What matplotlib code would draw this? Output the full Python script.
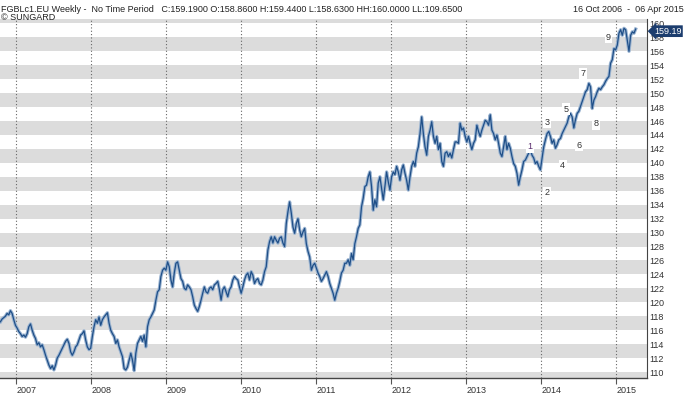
import matplotlib
matplotlib.use("Agg")
import matplotlib.pyplot as plt
import pandas as pd

# Euro-Bund futures, weekly closes
closes_2006_2008 = [
    117.2, 117.6, 117.8, 118.0, 118.4, 118.2, 118.8, 118.4, 117.5, 116.7,
    116.3, 115.8, 115.5, 115.1, 115.3, 115.0, 115.5, 116.5, 116.9, 116.0,
    115.3, 114.8, 113.9, 114.2, 113.6, 113.9, 113.2, 112.4, 111.7, 111.0,
    110.5, 110.9, 110.3, 111.0, 112.0, 112.4, 112.9, 113.4, 113.9, 114.4,
    114.7, 114.1, 112.9, 112.4, 112.9, 113.6, 113.9, 114.6, 115.3, 115.5,
    115.9, 114.6, 113.6, 113.2, 113.4, 115.1, 116.5, 117.5, 117.0, 117.9,
    116.7, 117.5, 117.9, 118.2, 118.5, 117.0, 116.0, 115.5, 115.1, 114.1,
    114.6, 113.6, 112.9, 112.2, 110.5, 110.3, 110.7, 111.7, 112.7, 111.7,
    110.2, 112.7, 114.1, 114.6, 115.1, 114.4, 115.3, 113.6, 116.5, 117.5,
]
closes_2008_2010 = [
    117.9, 118.4, 118.9, 120.3, 121.5, 121.8, 123.7, 124.6, 124.9, 124.6,
    125.8, 125.1, 123.2, 122.2, 124.2, 125.6, 125.8, 124.6, 123.4, 123.0,
    122.0, 121.8, 122.5, 122.2, 121.8, 120.8, 119.6, 119.1, 118.7, 119.4,
    120.3, 121.3, 122.2, 121.5, 121.3, 122.0, 122.2, 121.8, 122.5, 122.7,
    123.0, 121.8, 120.3, 121.8, 122.2, 121.5, 120.8, 121.8, 122.2, 123.2,
    123.7, 123.4, 123.2, 122.2, 121.3, 122.2, 123.2, 123.9, 124.2, 123.2,
    124.4, 123.9, 122.7, 123.2, 123.4, 122.7, 122.5, 123.2, 124.4, 125.1,
    127.5, 128.7, 129.4, 128.5, 129.4, 128.9, 128.5, 129.2, 129.4, 128.5,
    128.0, 131.3, 133.0, 134.4, 132.8, 130.8, 129.9, 131.3, 132.0, 130.4,
]
closes_2010_2013 = [
    129.4, 130.1, 130.6, 128.4, 127.3, 126.5, 124.6, 125.3, 125.6, 124.9,
    124.2, 123.7, 123.0, 123.4, 123.9, 124.4, 123.7, 122.7, 122.0, 121.3,
    120.3, 121.3, 122.0, 123.0, 124.2, 124.6, 125.6, 125.6, 126.1, 125.3,
    127.0, 126.1, 128.4, 129.4, 130.6, 131.1, 133.7, 134.9, 136.6, 136.8,
    138.0, 138.7, 136.6, 133.2, 134.7, 133.7, 137.1, 138.0, 136.3, 134.7,
    136.6, 138.7, 137.3, 136.1, 138.0, 138.7, 138.3, 139.5, 138.7, 137.5,
    139.0, 139.7, 138.5, 137.5, 136.1, 138.0, 139.5, 140.2, 139.5, 141.4,
    142.3, 144.2, 146.6, 144.2, 142.3, 141.1, 143.8, 144.7, 145.9, 143.8,
    142.8, 143.8, 141.9, 142.8,
]
closes_2013_2015 = [
    140.2, 139.5, 141.4, 141.6, 140.9, 141.4, 140.7, 141.9, 143.0, 143.0,
    142.8, 145.7, 144.7, 145.0, 143.8, 143.0, 143.8, 142.8, 141.9, 142.8,
    143.3, 145.4, 144.5, 143.8, 144.7, 145.4, 146.1, 145.9, 145.4, 146.9,
    144.7, 144.2, 143.3, 144.0, 142.8, 141.4, 140.9, 142.3, 143.8, 141.9,
    142.8, 142.1, 140.9, 139.9, 139.5, 138.5, 136.8, 138.0, 139.0, 140.2,
    140.4, 140.9, 141.4, 141.9, 141.1, 140.7, 139.9, 140.2, 139.5, 139.0,
    140.7, 142.3, 143.3, 144.2, 144.5, 143.8, 142.8, 143.3, 142.1, 142.6,
    143.3, 143.5, 144.2, 144.7, 145.2, 145.7, 146.6, 147.1,
    146.6, 145.0, 146.2, 147.1, 147.4, 148.1, 148.8, 149.5, 150.2, 150.5,
    151.4, 150.9, 147.8, 149.0, 149.5, 150.2, 150.7, 150.5, 150.9, 151.2,
    151.7, 152.1, 152.4, 154.3, 154.8, 156.4, 156.2, 156.9, 158.6, 159.1,
    158.3, 159.3, 159.1, 157.6, 156.0, 158.3, 158.8, 158.6, 159.2,
]
closes = closes_2006_2008 + closes_2008_2010 + closes_2010_2013 + closes_2013_2015
last_price = 159.19

# wave count labels (label, date, price)
wave_labels = ["1", "2", "3", "4", "5", "6", "7", "8", "9"]
wave_dates = ["2013-11-08", "2014-01-30", "2014-01-30", "2014-04-16", "2014-04-30",
              "2014-07-05", "2014-07-22", "2014-09-24", "2014-11-25"]
wave_prices = [142.3, 135.7, 145.8, 139.6, 147.7, 142.5, 152.8, 145.6, 158.0]

years = list(range(2007, 2016))
price_ticks = list(range(110, 161, 2))

dates = pd.date_range("2006-10-16", "2015-04-06", periods=len(closes))

fig = plt.figure(figsize=(6.89, 3.94), dpi=100)
ax = fig.add_axes([0.0, 0.0406, 0.939, 0.9114])
font = "Liberation Sans"

# alternating grey bands
for lo in range(108, 162, 4):
    ax.axhspan(lo, lo + 2, color="#dcdcdc", lw=0, zorder=0)

for y in years:
    ax.axvline(pd.Timestamp(f"{y}-01-01"), color="#666666", lw=0.8,
               ls=(0, (1, 2)), zorder=1)

ax.plot(dates, closes, color="#9ab3d0", lw=2.4, zorder=2)
ax.plot(dates, closes, color="#1f4f88", lw=0.9, zorder=3)

for lab, d, p in zip(wave_labels, wave_dates, wave_prices):
    ax.text(pd.Timestamp(d), p, lab, fontsize=6.5, family=font,
            color="#5a2d6e" if lab == "1" else "#333333", ha="center", va="center",
            bbox=dict(boxstyle="square,pad=0.15", fc="white", ec="none"), zorder=4)

ax.set_xlim(pd.Timestamp("2006-10-14"), pd.Timestamp("2015-05-31"))
ax.set_ylim(109.14, 160.65)

ax.set_xticks([pd.Timestamp(f"{y}-01-01") for y in years])
ax.set_xticklabels([str(y) for y in years], family=font, fontsize=6.5, color="#333333")
for t in ax.get_xticklabels():
    t.set_horizontalalignment("left")
ax.tick_params(axis="x", length=4, width=0.8, color="#555555", pad=2)

ax.yaxis.tick_right()
ax.set_yticks(price_ticks)
ax.set_yticklabels([str(v) for v in price_ticks], family=font, fontsize=6.5, color="#333333")
ax.tick_params(axis="y", length=0, pad=2)

for s in ["top", "left"]:
    ax.spines[s].set_visible(False)
ax.spines["bottom"].set_color("#444444")
ax.spines["right"].set_color("#444444")
ax.spines["bottom"].set_linewidth(1.0)
ax.spines["right"].set_linewidth(0.8)

# last price marker, sits over the 158/160 labels like in the original
ax.annotate(f"{last_price:.2f}", xy=(1.0, last_price), xycoords=("axes fraction", "data"),
            xytext=(5, -1.5), textcoords="offset points", ha="left", va="center",
            color="white", fontsize=6.5, family=font, annotation_clip=False,
            bbox=dict(boxstyle="larrow,pad=0.15", fc="#1c3d6e", ec="none"), zorder=5)

# header
fig.text(0.002, 0.988, "FGBLc1.EU Weekly -  No Time Period   C:159.1900 O:158.8600 H:159.4400 "
         "L:158.6300 HH:160.0000 LL:109.6500", fontsize=6.5, family=font, color="#222222",
         va="top", ha="left")
fig.text(0.002, 0.967, "\u00a9 SUNGARD", fontsize=6.5, family=font, color="#222222",
         va="top", ha="left")
fig.text(0.993, 0.988, "16 Oct 2006  -  06 Apr 2015", fontsize=6.5, family=font,
         color="#222222", va="top", ha="right")

plt.savefig("out.png", dpi=100)
